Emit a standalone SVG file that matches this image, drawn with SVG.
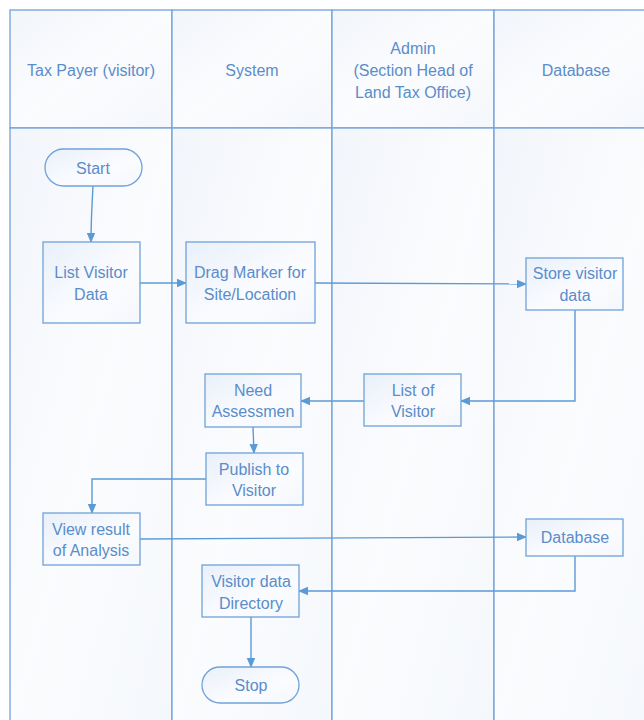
<svg xmlns="http://www.w3.org/2000/svg" width="644" height="720" viewBox="0 0 644 720">
<style>
.lane{fill:url(#lg);stroke:#6fa2d8;stroke-width:1.3}
.node{fill:url(#ng);stroke:#6fa2d8;stroke-width:1.3}
.t{font-family:"Liberation Sans",Arial,sans-serif;font-size:16px;fill:#5a8dca;text-anchor:middle}
.c{fill:none;stroke:#5b9bd5;stroke-width:1.4;marker-end:url(#ah)}
</style>
<defs>
<linearGradient id="lg" x1="0" y1="0" x2="1" y2="1">
<stop offset="0" stop-color="#f2f5fb"/><stop offset="0.5" stop-color="#fbfcfe"/><stop offset="1" stop-color="#f4f7fc"/>
</linearGradient>
<linearGradient id="ng" x1="0" y1="0" x2="1" y2="1">
<stop offset="0" stop-color="#e9f0fa"/><stop offset="0.6" stop-color="#fbfcff"/><stop offset="1" stop-color="#f4f7fc"/>
</linearGradient>
<marker id="ah" markerWidth="10" markerHeight="10" refX="9" refY="5" orient="auto" markerUnits="userSpaceOnUse">
<path d="M0,0.8 L10,5 L0,9.2 Z" fill="#5b9bd5"/>
</marker>
</defs>
<rect width="644" height="720" fill="#ffffff"/>
<g id="lanes">
<rect class="lane" x="10" y="10" width="162" height="118"/>
<rect class="lane" x="172" y="10" width="160" height="118"/>
<rect class="lane" x="332" y="10" width="162" height="118"/>
<rect class="lane" x="494" y="10" width="170" height="118"/>
<rect class="lane" x="10" y="128" width="162" height="600"/>
<rect class="lane" x="172" y="128" width="160" height="600"/>
<rect class="lane" x="332" y="128" width="162" height="600"/>
<rect class="lane" x="494" y="128" width="170" height="600"/>
<text class="t" x="91" y="76">Tax Payer (visitor)</text>
<text class="t" x="252" y="76">System</text>
<text class="t" x="413" y="54">Admin</text>
<text class="t" x="413" y="76">(Section Head of</text>
<text class="t" x="413" y="98">Land Tax Office)</text>
<text class="t" x="576" y="76">Database</text>
</g>
<g id="connectors">
<path class="c" d="M93,186 C92,205 91,220 91,242"/>
<path class="c" d="M140,283 L186,283"/>
<path class="c" d="M315,283 L526,284"/>
<path class="c" d="M575,310 L575,401 L461,401"/>
<path class="c" d="M364,401 L301,401"/>
<path class="c" d="M253,427 L254,453"/>
<path class="c" d="M206,479 L92,479 L92,513"/>
<path class="c" d="M140,539 L526,537"/>
<path class="c" d="M575,556 L575,591 L299,591"/>
<path class="c" d="M251,617 L251,667"/>
</g>
<g id="start"><rect class="node" x="45" y="149" width="97" height="37" rx="18.5"/><text class="t" x="93" y="174">Start</text></g>
<g id="listVisitorData"><rect class="node" x="43" y="242" width="97" height="81"/><text class="t" x="91" y="278">List Visitor</text><text class="t" x="91" y="300">Data</text></g>
<g id="dragMarker"><rect class="node" x="186" y="242" width="129" height="81"/><text class="t" x="250" y="278">Drag Marker for</text><text class="t" x="250" y="300">Site/Location</text></g>
<g id="storeVisitor"><rect class="node" x="526" y="258" width="97" height="52"/><text class="t" x="575" y="279">Store visitor</text><text class="t" x="575" y="301">data</text></g>
<g id="listOfVisitor"><rect class="node" x="364" y="374" width="97" height="52"/><text class="t" x="413" y="396">List of</text><text class="t" x="413" y="417">Visitor</text></g>
<g id="needAssessment"><rect class="node" x="205" y="374" width="96" height="53"/><text class="t" x="253" y="396">Need</text><text class="t" x="253" y="417">Assessmen</text></g>
<g id="publish"><rect class="node" x="206" y="453" width="97" height="52"/><text class="t" x="254" y="475">Publish to</text><text class="t" x="254" y="496">Visitor</text></g>
<g id="viewResult"><rect class="node" x="43" y="513" width="97" height="52"/><text class="t" x="91" y="535">View result</text><text class="t" x="91" y="556">of Analysis</text></g>
<g id="database"><rect class="node" x="526" y="519" width="97" height="37"/><text class="t" x="575" y="543">Database</text></g>
<g id="directory"><rect class="node" x="202" y="565" width="97" height="52"/><text class="t" x="251" y="587">Visitor data</text><text class="t" x="251" y="609">Directory</text></g>
<g id="stop"><rect class="node" x="202" y="667" width="97" height="36" rx="18"/><text class="t" x="251" y="691">Stop</text></g>
</svg>
